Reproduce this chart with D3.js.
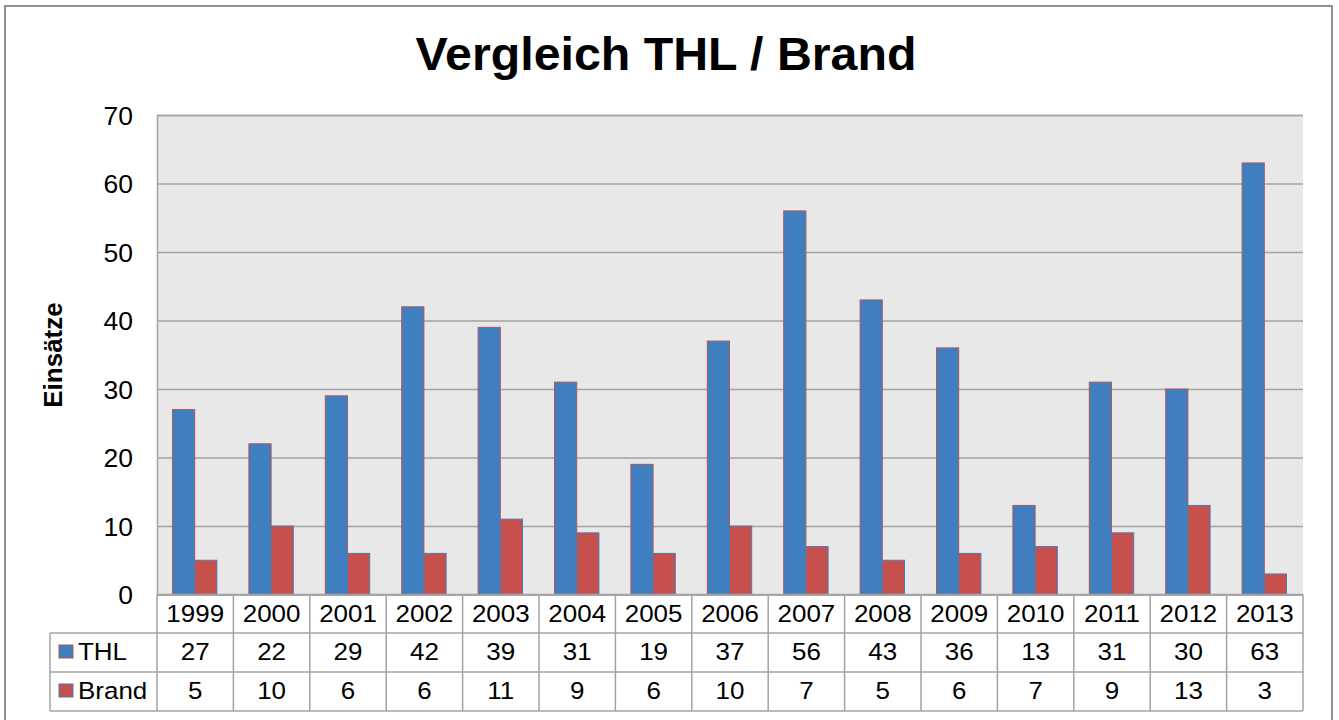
<!DOCTYPE html>
<html>
<head>
<meta charset="utf-8">
<style>
    body { margin: 0; background: #fff; }
    text { font-family: "Liberation Sans", Arial, sans-serif; fill: #000; }
</style>
</head>
<body>
<svg id="chart" width="1339" height="720"></svg>
<script src="https://cdn.jsdelivr.net/npm/d3@7"></script>
<script>
    // data
    let years = ["1999","2000","2001","2002","2003","2004","2005","2006","2007","2008","2009","2010","2011","2012","2013"]
    let thl = [27,22,29,42,39,31,19,37,56,43,36,13,31,30,63]
    let brand = [5,10,6,6,11,9,6,10,7,5,6,7,9,13,3]
    let seriesNames = ["THL","Brand"]
    let yTicks = [0,10,20,30,40,50,60,70]

    let blue = "#3f7fc0"
    let red = "#c6504b"
    let gridColor = "#a3a3a3"
    let stretch = "scale(1.06,1)" // the original text is a bit wider than it is tall

    let svg = d3.select("#chart")

    // outer frame
    svg.append("rect")
        .attr("x", 5).attr("y", 6).attr("width", 1327).attr("height", 730)
        .attr("fill", "none").attr("stroke", "#8f8f8f").attr("stroke-width", 2)

    // title
    svg.append("text")
        .attr("transform", "translate(666,70) scale(1.05,1)")
        .attr("text-anchor", "middle")
        .style("font-size", "46px").style("font-weight", "bold")
        .text("Vergleich THL / Brand")

    let plotLeft = 157, plotRight = 1303, plotTop = 115, plotBottom = 594.5

    let x0 = d3.scaleBand().domain(years).range([plotLeft, plotRight])
    let x1 = d3.scaleBand().domain(seriesNames)
        .range([15.5, x0.bandwidth() - 16.5])
    let y = d3.scaleLinear().domain([0, 70]).range([plotBottom, plotTop])

    // plot background
    svg.append("rect")
        .attr("x", plotLeft).attr("y", plotTop)
        .attr("width", plotRight - plotLeft).attr("height", plotBottom - plotTop)
        .attr("fill", "#e8e8e8")

    // gridlines
    let grid = svg.append("g")
        .attr("transform", "translate(" + plotLeft + ",0)")
        .call(d3.axisLeft(y).tickValues(yTicks).tickSize(-(plotRight - plotLeft)).tickFormat(""))
    grid.select(".domain").attr("stroke", gridColor).attr("stroke-width", 1.5)
    grid.selectAll(".tick line").attr("stroke", gridColor).attr("stroke-width", 1.5)

    // y tick labels
    let yAxis = svg.append("g")
        .attr("transform", "translate(133,0)")
        .call(d3.axisLeft(y).tickValues(yTicks).tickSize(0).tickPadding(0))
    yAxis.select(".domain").remove()
    yAxis.selectAll("text")
        .style("font-size", "25px")
        .attr("font-family", null)
        .attr("dy", "0.36em")
        .attr("transform", stretch)

    // y axis title
    svg.append("text")
        .attr("transform", "translate(62,355) rotate(-90)")
        .attr("text-anchor", "middle")
        .style("font-size", "26px").style("font-weight", "bold")
        .text("Einsätze")

    // bars
    let rows = years.map((yr, i) => ({year: yr, values: [thl[i], brand[i]]}))
    let groups = svg.append("g").selectAll("g")
        .data(rows)
        .enter().append("g")
        .attr("transform", d => "translate(" + x0(d.year) + ",0)")
    groups.selectAll("rect")
        .data(d => d.values.map((v, k) => ({key: seriesNames[k], value: v})))
        .enter().append("rect")
        .attr("x", d => x1(d.key))
        .attr("width", x1.bandwidth())
        .attr("y", d => y(d.value))
        .attr("height", d => plotBottom - y(d.value))
        .attr("fill", d => d.key == "THL" ? blue : red)
        .attr("stroke", d => d.key == "THL" ? "#b0565a" : "#4a7bb8")
        .attr("stroke-width", 1)

    // data table
    let rowTop = [594.5, 633, 672, 711]
    let tableLeft = 50
    let table = svg.append("g")
    let lineStyle = sel => sel.attr("stroke", gridColor).attr("stroke-width", 1.5)

    // horizontal lines
    table.append("line").attr("x1", plotLeft).attr("x2", plotRight).attr("y1", rowTop[0]).attr("y2", rowTop[0]).call(lineStyle)
    for (let r = 1; r < rowTop.length; r++) {
        table.append("line").attr("x1", tableLeft).attr("x2", plotRight)
            .attr("y1", rowTop[r]).attr("y2", rowTop[r]).call(lineStyle)
    }
    // vertical lines
    table.append("line").attr("x1", tableLeft).attr("x2", tableLeft)
        .attr("y1", rowTop[1]).attr("y2", rowTop[3]).call(lineStyle)
    years.forEach(yr => {
        table.append("line").attr("x1", x0(yr)).attr("x2", x0(yr))
            .attr("y1", rowTop[0]).attr("y2", rowTop[3]).call(lineStyle)
    })
    table.append("line").attr("x1", plotRight).attr("x2", plotRight)
        .attr("y1", rowTop[0]).attr("y2", rowTop[3]).call(lineStyle)

    // year labels
    table.selectAll(".yr").data(years).enter().append("text")
        .attr("transform", d => "translate(" + (x0(d) + x0.bandwidth() / 2) + ",622) " + stretch)
        .attr("text-anchor", "middle")
        .style("font-size", "24.5px")
        .text(d => d)

    let baselines = [660, 699]
    let seriesData = [thl, brand]
    seriesData.forEach((vals, k) => {
        table.selectAll(".v" + k).data(vals).enter().append("text")
            .attr("transform", (d, i) => "translate(" + (x0(years[i]) + x0.bandwidth() / 2) + "," + baselines[k] + ") " + stretch)
            .attr("text-anchor", "middle")
            .style("font-size", "24.5px")
            .text(d => d)
        // legend key
        table.append("rect")
            .attr("x", 59).attr("y", baselines[k] - 15)
            .attr("width", 14).attr("height", 13)
            .attr("fill", k == 0 ? blue : red)
            .attr("stroke", k == 0 ? "#b0565a" : "#4a7bb8")
        table.append("text")
            .attr("transform", "translate(78," + baselines[k] + ") " + stretch)
            .style("font-size", "24.5px")
            .text(seriesNames[k])
    })
</script>
</body>
</html>
